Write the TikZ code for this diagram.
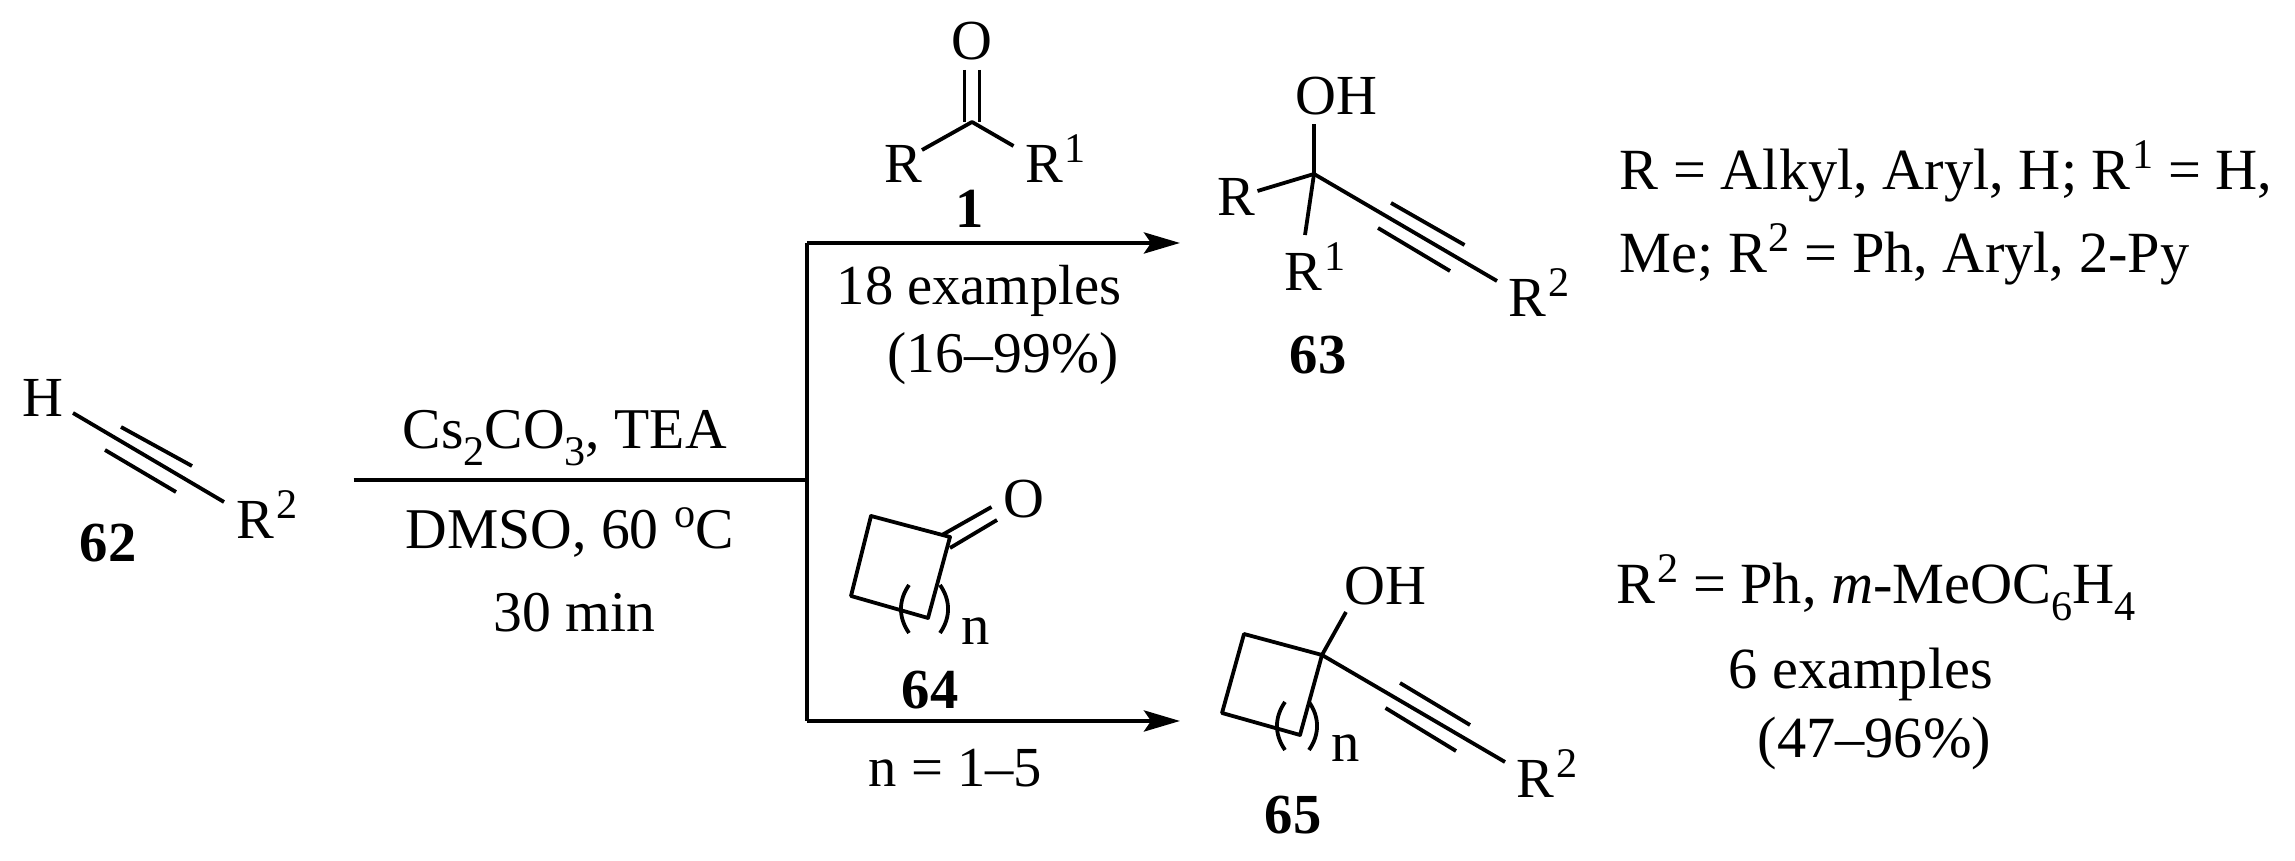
\documentclass[tikz,border=0pt]{standalone}
\usepackage{fontspec}
\setmainfont[Kerning=Off]{Liberation Serif}
\usetikzlibrary{arrows.meta}
\newcommand{\upidx}[1]{\kern0.03em\raisebox{0.37em}{\fontsize{12}{12}\selectfont #1}}
\newcommand{\dnidx}[1]{\raisebox{-0.28em}{\fontsize{12}{12}\selectfont #1}}
\tikzset{
	lab/.style={inner sep=0pt, anchor=base west, font=\fontsize{16.1}{19}\selectfont},
	cond/.style={lab, font=\fontsize{16.4}{19}\selectfont},
	note/.style={lab, font=\fontsize{16.6}{19}\selectfont},
	num/.style={inner sep=0pt, anchor=base, font=\fontsize{16.1}{19}\selectfont\bfseries},
	bond/.style={line width=0.038cm, line join=round},
	flow/.style={line width=0.045cm},
	flowtip/.style={line width=0.045cm, -{Stealth[length=0.36cm, width=0.21cm, inset=0.07cm]}}
}

\begin{document}
\begin{tikzpicture}
			%%%%% START %%%%%
			\useasboundingbox (0, 0) rectangle (22.95, 8.61);
			
			% alkyne 62
			\node[lab] (hAtom) at (0.22, 4.44) {H};
			\node[lab] (rTwoA) at (2.36, 3.22) {R\upidx{2}};
			\node[num] (labelA) at (1.08, 2.99) {62};
			\coordinate (aS) at (0.73, 4.48);
			\coordinate (aE) at (2.24, 3.59);
			\coordinate (aUs) at (1.21, 4.34);
			\coordinate (aUe) at (1.92, 3.95);
			\coordinate (aLs) at (1.05, 4.11);
			\coordinate (aLe) at (1.76, 3.69);
			\draw[bond] (aS) -- (aE);
			\draw[bond] (aUs) -- (aUe);
			\draw[bond] (aLs) -- (aLe);
			
			% conditions and branched arrow
			\node[cond] (condA) at (4.02, 4.12) {Cs\dnidx{2}CO\dnidx{3}, TEA};
			\node[cond] (condB) at (4.05, 3.12) {DMSO, 60 \upidx{o}C};
			\node[cond] (condC) at (4.93, 2.29) {30 min};
			\coordinate (fStart) at (3.535, 3.81);
			\coordinate (fMid) at (8.07, 3.81);
			\coordinate (fTop) at (8.07, 6.18);
			\coordinate (fBot) at (8.07, 1.40);
			\coordinate (fTopEnd) at (11.80, 6.18);
			\coordinate (fBotEnd) at (11.80, 1.40);
			\draw[flow] (fStart) -- (fMid);
			\draw[flow, line width=0.038cm] (fTop) -- (fBot);
			\draw[flowtip] (fTop) -- (fTopEnd);
			\draw[flowtip] (fBot) -- (fBotEnd);
			
			% ketone 1
			\node[lab] (oOne) at (9.51, 8.01) {O};
			\node[lab] (rOne) at (8.84, 6.78) {R};
			\node[lab] (rOneB) at (10.245, 6.78) {R\upidx{1}};
			\node[num] (labelB) at (9.70, 6.33) {1};
			\coordinate (kC) at (9.72, 7.39);
			\coordinate (kR) at (9.22, 7.11);
			\coordinate (kRb) at (10.135, 7.15);
			\coordinate (kOa) at (9.645, 7.91);
			\coordinate (kOb) at (9.795, 7.91);
			\coordinate (kCa) at (9.645, 7.39);
			\coordinate (kCb) at (9.795, 7.39);
			\draw[bond] (kR) -- (kC) -- (kRb);
			\draw[bond] (kOa) -- (kCa);
			\draw[bond] (kOb) -- (kCb);
			\node[lab] (exA) at (8.36, 5.56) {18 examples};
			\node[cond] (exB) at (8.87, 4.88) {(16--99\%)};
			
			% product 63
			\node[lab] (ohA) at (12.95, 7.46) {OH};
			\node[lab] (rA) at (12.17, 6.45) {R};
			\node[lab] (rB) at (12.84, 5.70) {R\upidx{1}};
			\node[lab] (rC) at (15.08, 5.44) {R\upidx{2}};
			\node[num] (labelC) at (13.18, 4.87) {63};
			\coordinate (pC) at (13.14, 6.87);
			\coordinate (pO) at (13.14, 7.37);
			\coordinate (pR) at (12.575, 6.70);
			\coordinate (pRb) at (13.05, 6.26);
			\coordinate (pRc) at (14.97, 5.80);
			\coordinate (pUs) at (13.91, 6.58);
			\coordinate (pUe) at (14.645, 6.16);
			\coordinate (pLs) at (13.78, 6.33);
			\coordinate (pLe) at (14.50, 5.90);
			\draw[bond] (pC) -- (pO);
			\draw[bond] (pC) -- (pR);
			\draw[bond] (pC) -- (pRb);
			\draw[bond] (pC) -- (pRc);
			\draw[bond] (pUs) -- (pUe);
			\draw[bond] (pLs) -- (pLe);
			\node[note] (noteA) at (16.19, 6.71) {R = Alkyl, Aryl, H; R\upidx{1} = H,};
			\node[note] (noteB) at (16.19, 5.88) {Me; R\upidx{2} = Ph, Aryl, 2-Py};
			
			% cyclic ketone 64
			\node[lab] (oRing) at (10.03, 3.43) {O};
			\node[lab] (nRing) at (9.61, 2.16) {n};
			\node[num] (labelD) at (9.30, 1.52) {64};
			\node[lab] (nRange) at (8.68, 0.74) {n = 1--5};
			\coordinate (qA) at (8.71, 3.45);
			\coordinate (qB) at (9.50, 3.24);
			\coordinate (qC) at (9.28, 2.43);
			\coordinate (qD) at (8.51, 2.65);
			\coordinate (qOa) at (9.42, 3.26);
			\coordinate (qOb) at (9.915, 3.54);
			\coordinate (qOc) at (9.50, 3.13);
			\coordinate (qOd) at (9.97, 3.41);
			\draw[bond] (qA) -- (qB) -- (qC) -- (qD) -- cycle;
			\draw[bond] (qOa) -- (qOb);
			\draw[bond] (qOc) -- (qOd);
			\coordinate (qPa) at (9.09, 2.76);
			\coordinate (qPb) at (9.09, 2.28);
			\coordinate (qPc) at (9.40, 2.76);
			\coordinate (qPd) at (9.40, 2.28);
			\draw[bond] (qPa) to[bend right=35] (qPb);
			\draw[bond] (qPc) to[bend left=35] (qPd);
			
			% product 65
			\node[lab] (ohB) at (13.44, 2.56) {OH};
			\node[lab] (nProd) at (13.31, 0.99) {n};
			\node[lab] (rD) at (15.16, 0.63) {R\upidx{2}};
			\node[num] (labelE) at (12.93, 0.27) {65};
			\coordinate (sA) at (12.44, 2.27);
			\coordinate (sB) at (13.22, 2.06);
			\coordinate (sC) at (13.00, 1.26);
			\coordinate (sD) at (12.22, 1.48);
			\coordinate (sO) at (13.46, 2.49);
			\coordinate (sR) at (15.05, 0.99);
			\coordinate (sUs) at (14.00, 1.78);
			\coordinate (sUe) at (14.70, 1.36);
			\coordinate (sLs) at (13.855, 1.53);
			\coordinate (sLe) at (14.56, 1.10);
			\draw[bond] (sA) -- (sB) -- (sC) -- (sD) -- cycle;
			\draw[bond] (sB) -- (sO);
			\draw[bond] (sB) -- (sR);
			\draw[bond] (sUs) -- (sUe);
			\draw[bond] (sLs) -- (sLe);
			\coordinate (sPa) at (12.85, 1.59);
			\coordinate (sPb) at (12.85, 1.11);
			\coordinate (sPc) at (13.09, 1.59);
			\coordinate (sPd) at (13.09, 1.11);
			\draw[bond] (sPa) to[bend right=35] (sPb);
			\draw[bond] (sPc) to[bend left=35] (sPd);
			\node[note] (noteC) at (16.16, 2.57) {R\upidx{2} = Ph, \textit{m}-MeOC\dnidx{6}H\dnidx{4}};
			\node[note] (exC) at (17.28, 1.72) {6 examples};
			\node[note] (exD) at (17.57, 1.03) {(47--96\%)};
			
			%%%%% END %%%%%
		\end{tikzpicture}
\end{document}
